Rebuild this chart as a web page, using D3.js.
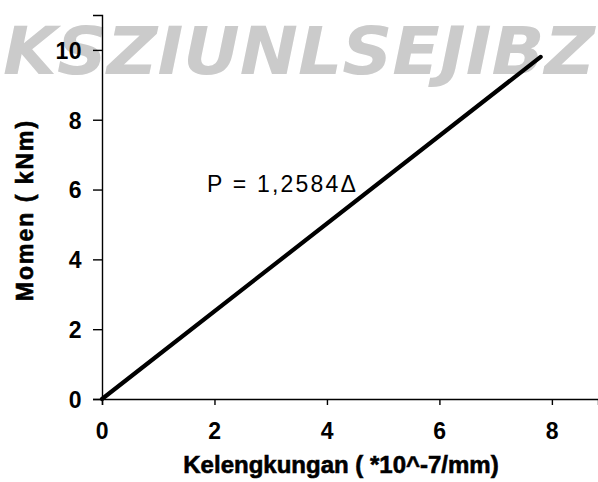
<!DOCTYPE html>
<html>
<head>
<meta charset="utf-8">
<script src="https://cdn.jsdelivr.net/npm/d3@7"></script>
<style>
  html, body { margin: 0; padding: 0; background: #fff; }
  svg { display: block; }
  text { font-family: "Liberation Sans", Arial, sans-serif; fill: #000; }
</style>
</head>
<body>
<script>
// Moment–curvature relation: straight line P = 1,2584Δ
const curvature = [0, 7.8];
const moment = [0, 9.8];
const xTicks = [0, 2, 4, 6, 8];
const yTicks = [0, 2, 4, 6, 8, 10];
const xTitle = "Kelengkungan ( *10^-7/mm)";
const yTitle = "Momen ( kNm)";
const equation = "P = 1,2584Δ";
const watermark = "KSZIUNLSEJIBZ";

const W = 598, H = 482;
const svg = d3.select("body").append("svg").attr("width", W).attr("height", H);

// background watermark band
svg.append("text")
  .attr("x", 299).attr("y", 74)
  .attr("text-anchor", "middle")
  .attr("textLength", 592)
  .attr("lengthAdjust", "spacingAndGlyphs")
  .style("font-family", "'DejaVu Sans', sans-serif")
  .style("font-weight", "bold")
  .style("font-style", "italic")
  .style("font-size", "66px")
  .style("fill", "#cbcbcb")
  .text(watermark);

const x = d3.scaleLinear().domain([0, 8.82]).range([102, 598]);
const y = d3.scaleLinear().domain([0, 11]).range([399, 15]);

// axes
const xAxis = svg.append("g").attr("transform", `translate(0,${y(0)})`)
  .call(d3.axisBottom(x).tickValues(xTicks).tickSize(6).tickPadding(18).tickFormat(d3.format("d")));
const yAxis = svg.append("g").attr("transform", `translate(${x(0)},0)`)
  .call(d3.axisLeft(y).tickValues(yTicks).tickSize(9).tickPadding(11).tickFormat(d3.format("d")));

[xAxis, yAxis].forEach(g => {
  g.select(".domain").attr("stroke", "#000").attr("stroke-width", 1.4);
  g.selectAll(".tick line").attr("stroke", "#000").attr("stroke-width", 1.4);
  g.selectAll(".tick text")
    .style("font-family", "'Liberation Sans', Arial, sans-serif")
    .style("font-size", "23px")
    .style("font-weight", "bold")
    .style("letter-spacing", "0.5px")
    .attr("fill", "#000");
});
yAxis.selectAll(".tick text").attr("dy", "0.36em");

// data line
const line = d3.line().x((d, i) => x(curvature[i])).y(d => y(d));
svg.append("path")
  .datum(moment)
  .attr("d", line)
  .attr("fill", "none")
  .attr("stroke", "#000")
  .attr("stroke-width", 4.2)
  .attr("stroke-linecap", "round");

// equation label
svg.append("text")
  .attr("x", 207).attr("y", 192)
  .style("font-size", "23px")
  .style("letter-spacing", "2.2px")
  .text(equation);

// axis titles
svg.append("text")
  .attr("x", 341).attr("y", 473)
  .attr("text-anchor", "middle")
  .style("font-size", "24px")
  .style("font-weight", "bold")
  .style("stroke", "#000").style("stroke-width", 0.6)
  .text(xTitle);

svg.append("text")
  .attr("transform", "translate(33,210) rotate(-90)")
  .attr("text-anchor", "middle")
  .style("font-size", "23px")
  .style("font-weight", "bold")
  .style("letter-spacing", "2px")
  .style("stroke", "#000").style("stroke-width", 0.6)
  .text(yTitle);
</script>
</body>
</html>
